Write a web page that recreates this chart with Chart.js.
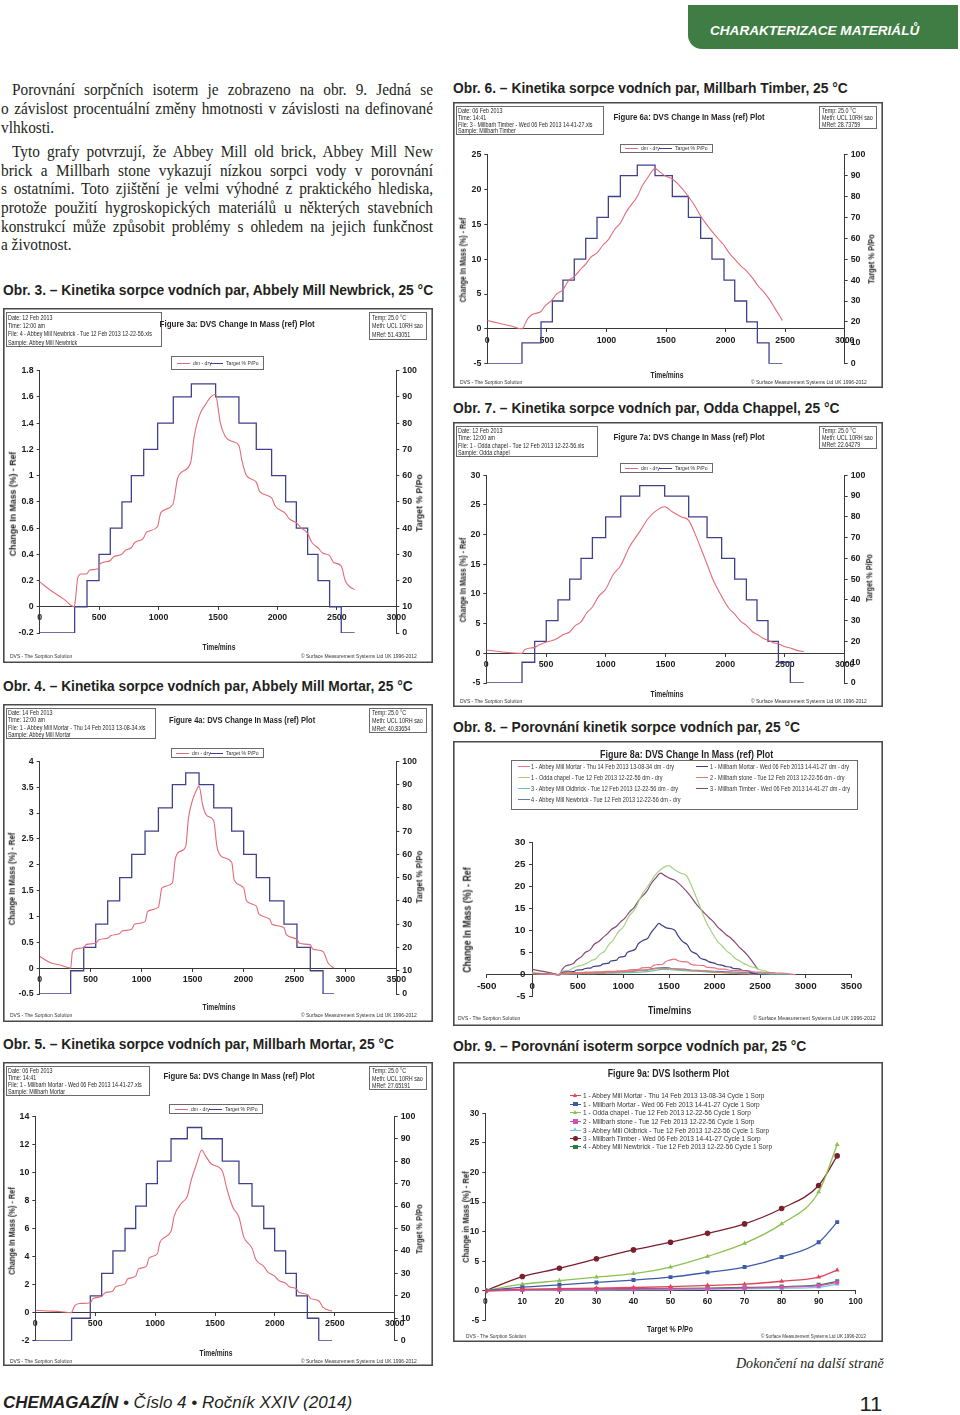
<!DOCTYPE html>
<html lang="cs">
<head>
<meta charset="utf-8">
<title>Chemagazín – kinetika sorpce vodních par</title>
<script src="https://cdn.jsdelivr.net/npm/chart.js@4.4.1/dist/chart.umd.min.js"></script>
<style>
html,body{margin:0;padding:0;background:#fff}
body{position:relative;width:960px;height:1415px;overflow:hidden;font-family:"Liberation Sans",Arial,sans-serif;color:#231f20}
.t{position:absolute;white-space:nowrap;line-height:1}
.frame{position:absolute;background:#fff;box-shadow:inset 0 0 0 1.6px #4a4a4a}
.frame canvas{position:absolute;left:0;top:0}
.box{position:absolute;border:1px solid #6a6a6a;box-sizing:border-box}
.tab{position:absolute;left:688px;top:5px;width:270px;height:44px;background:#3f7d44;border-radius:0 0 0 14px}
</style>
</head>
<body>
<div class="tab"></div>
<script>
// ================= DATA =================
// target relative humidity programme (% P/Po), identical for every DVS run
const targetRH = [0,10,20,30,40,50,60,70,80,90,95,90,80,70,60,50,40,30,20,10,0,0];

// Fig. 3 – Abbey Mill Newbrick
const newbrickStepTime = [0,294,398,499,594,692,771,875,992,1124,1276,1480,1676,1822,1951,2069,2159,2254,2341,2439,2537,2649];
const newbrickTime = [0,100,200,290,300,320,350,395,420,490,510,590,620,690,720,770,800,870,900,990,1020,1120,1160,1200,1270,1300,1340,1400,1440,1480,1500,1520,1560,1620,1676,1700,1740,1822,1850,1951,1980,2069,2100,2159,2200,2254,2290,2341,2380,2439,2470,2537,2570,2600,2649];
const newbrickMass = [0.19,0.12,0.06,0.0,0.05,0.22,0.25,0.25,0.28,0.29,0.33,0.35,0.38,0.40,0.43,0.45,0.49,0.52,0.57,0.61,0.72,0.78,0.98,1.03,1.10,1.30,1.45,1.55,1.60,1.62,1.52,1.40,1.30,1.26,1.23,1.12,1.00,0.95,0.88,0.83,0.77,0.71,0.67,0.64,0.60,0.56,0.49,0.45,0.41,0.39,0.34,0.31,0.20,0.16,0.13];

// Fig. 4 – Abbey Mill Mortar
const abbeyMortarStepTime = [0,304,432,550,667,785,903,1034,1165,1302,1433,1564,1708,1884,2002,2126,2257,2398,2525,2656,2781,2888];
const abbeyMortarTime = [0,100,200,304,320,350,432,460,550,580,667,700,785,810,903,930,1034,1060,1165,1200,1302,1330,1370,1433,1460,1500,1540,1564,1600,1640,1708,1740,1790,1884,1910,2002,2030,2126,2150,2257,2280,2398,2420,2525,2550,2656,2680,2781,2830,2888];
const abbeyMortarMass = [0.23,0.11,0.06,0.0,0.30,0.37,0.40,0.46,0.48,0.55,0.58,0.63,0.67,0.72,0.75,0.85,0.90,1.10,1.18,1.55,1.65,2.10,2.25,2.35,2.90,3.25,3.45,3.52,3.15,2.95,2.85,2.35,2.15,2.05,1.70,1.55,1.30,1.20,1.05,0.95,0.85,0.78,0.65,0.56,0.48,0.45,0.37,0.32,0.10,0.0];

// Fig. 5 – Millbarh Mortar
const mbMortarStepTime = [0,303,459,554,648,749,838,927,1019,1133,1269,1389,1561,1700,1809,1907,1998,2090,2179,2271,2366,2477];
const mbMortarTime = [0,100,200,300,330,370,459,480,554,580,648,670,749,770,838,860,927,950,1019,1040,1133,1160,1220,1269,1300,1350,1389,1420,1470,1561,1600,1650,1700,1740,1809,1840,1907,1940,1998,2030,2090,2120,2179,2200,2271,2300,2366,2400,2477];
const mbMortarMass = [0.17,0.12,0.08,0.0,0.50,0.65,0.70,1.00,1.15,1.40,1.55,1.85,2.05,2.40,2.60,3.10,3.30,3.90,4.20,5.00,5.80,6.90,7.80,8.30,9.40,10.70,11.60,11.20,10.60,10.10,8.80,7.50,6.80,5.40,4.60,3.80,3.30,2.90,2.60,2.30,2.10,1.85,1.70,1.45,1.30,1.00,0.85,0.40,0.10];

// Fig. 6 – Millbarh Timber
const timberStepTime = [0,291,451,546,635,730,826,921,1016,1117,1259,1408,1553,1688,1791,1886,1987,2077,2177,2267,2365,2477];
const timberTime = [0,100,200,291,300,330,370,451,480,546,580,635,680,730,780,826,870,921,970,1016,1070,1117,1170,1259,1300,1350,1408,1450,1500,1553,1600,1688,1740,1791,1840,1886,1940,1987,2030,2077,2130,2177,2230,2267,2320,2365,2420,2477];
const timberMass = [1.2,0.8,0.4,0.0,0.1,1.2,2.0,2.5,3.2,4.2,5.0,5.6,6.9,7.5,8.5,9.3,10.3,10.9,12.0,12.8,14.3,15.2,16.9,19.0,20.5,21.8,23.0,22.5,21.9,21.5,20.8,19.0,17.7,16.2,15.0,14.0,12.9,12.0,10.9,10.0,9.0,8.3,7.2,6.3,5.3,4.3,2.8,1.2];

// Fig. 7 – Odda chapel
const oddaStepTime = [0,299,405,502,600,698,793,888,999,1125,1284,1493,1694,1848,1970,2079,2177,2266,2358,2445,2545,2657];
const oddaTime = [0,100,200,299,320,405,440,502,560,600,650,698,740,793,840,888,940,999,1060,1125,1200,1284,1350,1420,1493,1560,1630,1694,1750,1800,1848,1900,1970,2030,2079,2130,2177,2230,2266,2320,2358,2400,2445,2500,2545,2600,2657];
const oddaMass = [0.55,0.3,0.1,0.0,0.6,1.0,1.4,1.9,2.2,2.6,3.2,3.6,4.6,5.3,6.8,7.8,9.6,10.8,13.2,14.8,18.0,20.5,22.6,24.0,24.7,23.8,23.0,22.4,20.0,17.5,15.0,12.3,9.6,7.6,6.6,5.4,4.7,3.6,3.2,2.5,2.2,1.8,1.6,1.1,0.9,0.5,0.3];

// Fig. 8 only – Millbarh stone, Abbey Mill Oldbrick
const stoneTime = [0,100,200,300,330,460,560,650,750,840,930,1020,1130,1270,1400,1560,1700,1810,1910,2000,2090,2180,2270,2370,2480];
const stoneMass = [0.3,0.2,0.1,0.0,0.15,0.25,0.3,0.35,0.42,0.5,0.6,0.7,0.9,1.1,1.45,1.3,1.05,0.85,0.7,0.55,0.45,0.35,0.25,0.15,0.05];
const oldbrickTime = [0,100,200,300,330,430,550,670,790,900,1030,1170,1300,1430,1560,1710,1880,2000,2130,2260,2400,2520,2650,2780,2880];
const oldbrickMass = [0.2,0.12,0.06,0.0,0.1,0.15,0.2,0.25,0.3,0.35,0.45,0.55,0.8,1.2,1.05,0.85,0.7,0.55,0.45,0.35,0.28,0.2,0.15,0.1,0.05];

// Fig. 9 – isotherms (Cycle 1 Sorp)
const isoRH = [0,10,20,30,40,50,60,70,80,90,95];
const isoAbbeyMortar = [0,0.25,0.35,0.45,0.55,0.7,0.9,1.1,1.6,2.3,3.5];
const isoMbMortar = [0,0.6,1.0,1.4,1.8,2.3,3.1,4.0,5.7,8.2,11.6];
const isoOdda = [0,1.1,1.7,2.3,2.9,4.0,5.8,8.0,11.3,16.7,24.7];
const isoStone = [0,0.1,0.15,0.2,0.25,0.3,0.35,0.45,0.6,0.85,1.4];
const isoOldbrick = [0,0.05,0.1,0.1,0.15,0.2,0.25,0.3,0.4,0.6,1.1];
const isoTimber = [0,2.4,3.8,5.4,6.9,8.2,9.7,11.3,13.9,17.8,22.8];
const isoNewbrick = [0,0.2,0.25,0.3,0.35,0.4,0.45,0.55,0.7,1.0,1.6];

// tick labels
const rhTicks = [0,10,20,30,40,50,60,70,80,90,100];
const time3000Ticks = [0,500,1000,1500,2000,2500,3000];
const time3500Ticks = [0,500,1000,1500,2000,2500,3000,3500];
const newbrickTicks = [-0.2,0,0.2,0.4,0.6,0.8,1,1.2,1.4,1.6,1.8];
const abbeyMortarTicks = [-0.5,0,0.5,1,1.5,2,2.5,3,3.5,4];
const mbMortarTicks = [-2,0,2,4,6,8,10,12,14];
const timberTicks = [-5,0,5,10,15,20,25];
const oddaTicks = [-5,0,5,10,15,20,25,30];
const fig8TimeTicks = [-500,0,500,1000,1500,2000,2500,3000,3500];
const fig8MassTicks = [-5,0,5,10,15,20,25,30];
const isoRHTicks = [0,10,20,30,40,50,60,70,80,90,100];
const isoMassTicks = [-5,0,5,10,15,20,25,30];

// series names
const dvsNames = ['dm - dry','Target % P/Po'];
const fig8Names = [
  '1 - Abbey Mill Mortar - Thu 14 Feb 2013 13-08-34 dm - dry',
  '1 - Millbarh Mortar - Wed 06 Feb 2013 14-41-27 dm - dry',
  '1 - Odda chapel - Tue 12 Feb 2013 12-22-56 dm - dry',
  '2 - Millbarh stone - Tue 12 Feb 2013 12-22-56 dm - dry',
  '3 - Abbey Mill Oldbrick - Tue 12 Feb 2013 12-22-56 dm - dry',
  '3 - Millbarh Timber - Wed 06 Feb 2013 14-41-27 dm - dry',
  '4 - Abbey Mill Newbrick - Tue 12 Feb 2013 12-22-56 dm - dry'];
const fig9Names = [
  '1 - Abbey Mill Mortar - Thu 14 Feb 2013 13-08-34 Cycle 1 Sorp',
  '1 - Millbarh Mortar - Wed 06 Feb 2013 14-41-27 Cycle 1 Sorp',
  '1 - Odda chapel - Tue 12 Feb 2013 12-22-56 Cycle 1 Sorp',
  '2 - Millbarh stone - Tue 12 Feb 2013 12-22-56 Cycle 1 Sorp',
  '3 - Abbey Mill Oldbrick - Tue 12 Feb 2013 12-22-56 Cycle 1 Sorp',
  '3 - Millbarh Timber - Wed 06 Feb 2013 14-41-27 Cycle 1 Sorp',
  '4 - Abbey Mill Newbrick - Tue 12 Feb 2013 12-22-56 Cycle 1 Sorp'];

// ================= STYLE / LAYOUT =================
const SANS = '"Liberation Sans", Arial, sans-serif';
const SERIF = '"Liberation Serif", "Times New Roman", serif';
const DVS_RED = '#e36b77', DVS_BLUE = '#40418c', AXIS = '#3a3a3a', TICKC = '#1c1c1c';
const fig8Colors = ['#e8737d','#3d3f88','#a6d184','#d9826c','#66c3b3','#874a72','#6a78aa'];
const fig9Colors = ['#e0445c','#3d5aa6','#8cc152','#d450b6','#7cc6e2','#7a1f2b','#2e7d40'];
const fig9Markers = ['triangle','rect','triangle','rect','triangle','circle','rect'];
const AXW = 30; // width reserved for y-axis tick labels
const DVS_TICK = 8.8;

Chart.defaults.font.family = SANS;

function el(tag, parent, cls, css){ const e=document.createElement(tag); if(cls) e.className=cls; if(css) e.style.cssText=css; parent.appendChild(e); return e; }

function put(parent, text, o){
  const d = document.createElement('div');
  d.className = 't';
  if (o.html) d.innerHTML = o.html; else d.textContent = text;
  d.style.font = `${o.italic?'italic ':''}${o.bold?'bold ':''}${o.size}px ${o.family||SANS}`;
  if (o.color) d.style.color = o.color;
  parent.appendChild(d);
  const nat = d.offsetWidth, h = d.offsetHeight;
  d._nat = nat;
  const s = o.w ? o.w/nat : (o.s || 1);
  const align = o.align || 'left';
  let left = o.x, origin = 'left center';
  if (o.rot || align === 'center'){ left = o.x - nat/2; origin = 'center center'; }
  else if (align === 'right'){ left = o.x - nat; origin = 'right center'; }
  d.style.left = left+'px';
  d.style.top = (o.y - h/2)+'px';
  d.style.transformOrigin = origin;
  d.style.transform = (o.rot ? `rotate(${o.rot}deg) ` : '') + `scaleX(${s})`;
  return d;
}

function jline(text, x, y, right, justify){
  const d = document.createElement('div');
  d.className = 't'; d.textContent = text;
  d.style.font = `17px ${SERIF}`;
  document.body.appendChild(d);
  const nat = d.offsetWidth, h = d.offsetHeight;
  const w = right - x;
  const s = justify ? Math.min(0.9, w/(nat+1)) : 0.9;
  if (justify){ d.style.whiteSpace='normal'; d.style.width=(w/s)+'px'; d.style.textAlign='justify'; d.style.textAlignLast='justify'; }
  d.style.left = x+'px'; d.style.top = (y-h/2)+'px';
  d.style.transformOrigin = 'left center'; d.style.transform = `scaleX(${s})`;
}

function makeFrame(x,y,w,h){
  const f = el('div', document.body, 'frame', `left:${x}px;top:${y}px;width:${w}px;height:${h}px`);
  const c = el('canvas', f); c.width = w; c.height = h; c.style.width = w+'px'; c.style.height = h+'px';
  return {f, c};
}

function infoBox(f, x, y, w, h, lines, size){
  el('div', f, 'box', `left:${x}px;top:${y}px;width:${w}px;height:${h}px`);
  const step = (h-2)/lines.length;
  const ds = lines.map((s,i)=>put(f, s, {x:x+2.5, y:y+1+step*(i+0.5), size}));
  const sc = Math.min(0.84, (w-5)/Math.max(...ds.map(d=>d._nat)));
  ds.forEach(d=>{ d.style.transform = `scaleX(${sc})`; });
}

function scaleOpts(ticksArr, size, extra){
  return Object.assign({
    type:'linear', min:ticksArr[0], max:ticksArr[ticksArr.length-1],
    afterBuildTicks: s => { s.ticks = ticksArr.map(v=>({value:v})); },
    grid:{drawOnChartArea:false, drawTicks:true, tickLength:3, color:AXIS, lineWidth:1},
    border:{display:true, color:AXIS, width:1},
    ticks:{autoSkip:false, maxRotation:0, minRotation:0, padding:3, color:TICKC,
           font:{family:SANS, size:size, weight:'bold'}, callback:v=>String(v)}
  }, extra||{});
}

// ---------- DVS kinetics chart ----------
function dvsChart(L, info, time, mass, stepTime, massTicks, timeTicks){
  const {f, c} = makeFrame(L.x, L.y, L.w, L.h);
  const P = L.plot;
  new Chart(c, {
    type:'line',
    data:{datasets:[
      {label:dvsNames[0], data:time.map((t,i)=>({x:t, y:mass[i]})), borderColor:DVS_RED, borderWidth:1.1,
       pointRadius:0, cubicInterpolationMode:'monotone', yAxisID:'y'},
      {label:dvsNames[1], data:stepTime.map((t,i)=>({x:t, y:targetRH[i]})), borderColor:DVS_BLUE, borderWidth:1.3,
       pointRadius:0, stepped:true, yAxisID:'y2'}
    ]},
    options:{
      responsive:false, animation:false, devicePixelRatio:1, events:[],
      layout:{padding:{left:P.l-AXW, top:P.t, right:L.w-P.r-AXW, bottom:L.h-P.b}},
      plugins:{legend:{display:false}, tooltip:{enabled:false}},
      scales:{
        x: scaleOpts(timeTicks, DVS_TICK, {position:{y:0}}),
        y: scaleOpts(massTicks, DVS_TICK, {position:'left', afterFit:s=>{s.width=AXW;}}),
        y2: scaleOpts(rhTicks, DVS_TICK, {axis:'y', position:'right', afterFit:s=>{s.width=AXW;}})
      }
    }
  });
  infoBox(f, 2.7, 4, L.head.w, L.head.h, info.head, 6.4);
  infoBox(f, 366, 4, 58, L.temp, info.temp, 6.4);
  put(f, info.title, {x:L.titleX, y:L.titleY, size:9.5, bold:true, align:'center', w:L.titleW});
  const lg = el('div', f, 'box', `left:${L.leg.x}px;top:${L.leg.y}px;width:${L.leg.w}px;height:${L.leg.h}px`);
  const cols = [DVS_RED, DVS_BLUE];
  const lw = L.leg.w;
  [[0.05,0.22],[0.41,0.58]].forEach((p,i)=>{
    el('div', lg, '', `position:absolute;left:${lw*p[0]}px;top:50%;width:${lw*0.14}px;border-top:1.2px solid ${cols[i]}`);
    put(lg, dvsNames[i], {x:lw*p[1], y:L.leg.h/2-1, size:6, color:'#333', s:0.85});
  });
  put(f, 'Change In Mass (%) - Ref', {x:L.yTitle.x, y:L.yTitle.y, size:8.5, bold:true, rot:-90, w:L.yTitle.w});
  put(f, 'Target % P/Po', {x:L.rTitle.x, y:L.rTitle.y, size:8.5, bold:true, rot:-90, w:L.rTitle.w});
  put(f, 'Time/mins', {x:L.timeX, y:L.timeY, size:8.5, bold:true, align:'center', w:33});
  put(f, 'DVS - The Sorption Solution', {x:6.7, y:L.footY, size:5.6, w:62, color:'#333'});
  put(f, '© Surface Measurement Systems Ltd UK 1996-2012', {x:414.3, y:L.footY, size:5.6, align:'right', w:116, color:'#333'});
}

// ================= PAGE TEXT =================
put(document.body, 'CHARAKTERIZACE MATERIÁLŮ', {x:710, y:30.5, size:13.5, bold:true, italic:true, w:209, color:'#ffffff'});

const bodyLines = [
  ['Porovnání sorpčních isoterm je zobrazeno na obr. 9. Jedná se', 12, 90, true],
  ['o závislost procentuální změny hmotnosti v závislosti na definované', 1, 109, true],
  ['vlhkosti.', 1, 128, false],
  ['Tyto grafy potvrzují, že Abbey Mill old brick, Abbey Mill New', 12, 152, true],
  ['brick a Millbarh stone vykazují nízkou sorpci vody v porovnání', 1, 170.5, true],
  ['s ostatními. Toto zjištění je velmi výhodné z praktického hlediska,', 1, 189, true],
  ['protože použití hygroskopických materiálů u některých stavebních', 1, 208, true],
  ['konstrukcí může způsobit problémy s ohledem na jejich funkčnost', 1, 226.5, true],
  ['a životnost.', 1, 245, false]
];
bodyLines.forEach(l=>jline(l[0], l[1], l[2], 433, l[3]));

const captions = [
  ['Obr. 3. – Kinetika sorpce vodních par, Abbely Mill Newbrick, 25 °C', 3, 290, 430],
  ['Obr. 4. – Kinetika sorpce vodních par, Abbely Mill Mortar, 25 °C', 3, 686, 410],
  ['Obr. 5. – Kinetika sorpce vodních par, Millbarh Mortar, 25 °C', 3, 1044, 391],
  ['Obr. 6. – Kinetika sorpce vodních par, Millbarh Timber, 25 °C', 453, 88, 395],
  ['Obr. 7. – Kinetika sorpce vodních par, Odda Chappel, 25 °C', 453, 408, 387],
  ['Obr. 8. – Porovnání kinetik sorpce vodních par, 25 °C', 453, 727, 347],
  ['Obr. 9. – Porovnání isoterm sorpce vodních par, 25 °C', 453, 1046, 353]
];
captions.forEach(c=>put(document.body, c[0], {x:c[1], y:c[2], size:14, bold:true, w:c[3]}));

put(document.body, 'Dokončení na další straně', {x:884, y:1363, size:14.5, italic:true, family:SERIF, align:'right', w:148});
put(document.body, '', {html:'<b>CHEMAGAZÍN</b> • Číslo 4 • Ročník XXIV (2014)', x:3, y:1403, size:17, italic:true, w:349});
put(document.body, '11', {x:870.5, y:1404, size:21, align:'center', w:23});

// ================= DVS CHARTS =================
const METH = 'Meth:  UCL 10RH sao';
dvsChart({x:3, y:308, w:430, h:355, plot:{l:36.7,t:62.7,r:393.3,b:325}, head:{w:156.7,h:35.3}, temp:27.7,
  titleX:234.2, titleY:15, titleW:155, leg:{x:168.3,y:48.3,w:92.3,h:13.3},
  yTitle:{x:10,y:195.8,w:105}, rTitle:{x:416.7,y:194.5,w:58}, timeX:215.7, timeY:339.3, footY:348.3},
  {title:'Figure 3a: DVS Change In Mass (ref) Plot',
   head:['Date:  12 Feb 2013','Time:  12:00 am','File:  4 - Abbey Mill Newbrick - Tue 12 Feb 2013 12-22-56.xls','Sample:  Abbey Mill Newbrick'],
   temp:['Temp:  25.0 °C', METH, 'MRef:  51.43051']},
  newbrickTime, newbrickMass, newbrickStepTime, newbrickTicks, time3000Ticks);

dvsChart({x:3, y:704, w:430, h:318, plot:{l:36.7,t:57.3,r:393.3,b:290}, head:{w:150,h:31}, temp:25.3,
  titleX:238.8, titleY:15, titleW:146, leg:{x:167.7,y:44.3,w:93,h:10},
  yTitle:{x:9.3,y:175,w:93}, rTitle:{x:416.7,y:173.3,w:53}, timeX:215.7, timeY:302.7, footY:311},
  {title:'Figure 4a: DVS Change In Mass (ref) Plot',
   head:['Date:  14 Feb 2013','Time:  12:00 am','File:  1 - Abbey Mill Mortar - Thu 14 Feb 2013 13-08-34.xls','Sample:  Abbey Mill Mortar'],
   temp:['Temp:  25.0 °C', METH, 'MRef:  40.83654']},
  abbeyMortarTime, abbeyMortarMass, abbeyMortarStepTime, abbeyMortarTicks, time3500Ticks);

dvsChart({x:3, y:1062, w:430, h:304, plot:{l:32.3,t:54.3,r:391.7,b:278.7}, head:{w:144.7,h:30.3}, temp:24.3,
  titleX:236.2, titleY:13.3, titleW:151, leg:{x:166,y:42.3,w:94,h:9.5},
  yTitle:{x:9.3,y:169,w:88}, rTitle:{x:416,y:166.7,w:50}, timeX:213, timeY:290.7, footY:299.3},
  {title:'Figure 5a: DVS Change In Mass (ref) Plot',
   head:['Date:  06 Feb 2013','Time:  14:41','File:  1 - Millbarh Mortar - Wed 06 Feb 2013 14-41-27.xls','Sample:  Millbarh Mortar'],
   temp:['Temp:  25.0 °C', METH, 'MRef:  27.65191']},
  mbMortarTime, mbMortarMass, mbMortarStepTime, mbMortarTicks, time3000Ticks);

dvsChart({x:453, y:102, w:430, h:286, plot:{l:34.3,t:52.7,r:391.7,b:261.7}, head:{w:148,h:29.3}, temp:22.7,
  titleX:236.3, titleY:14, titleW:151, leg:{x:166.7,y:41.7,w:93.3,h:9.3},
  yTitle:{x:10,y:157.5,w:85}, rTitle:{x:418.3,y:156.7,w:50}, timeX:214, timeY:272.7, footY:280},
  {title:'Figure 6a: DVS Change In Mass (ref) Plot',
   head:['Date:  06 Feb 2013','Time:  14:41','File:  3 - Millbarh Timber - Wed 06 Feb 2013 14-41-27.xls','Sample:  Millbarh Timber'],
   temp:['Temp:  25.0 °C', METH, 'MRef:  28.73759']},
  timberTime, timberMass, timberStepTime, timberTicks, time3000Ticks);

dvsChart({x:453, y:422, w:430, h:285, plot:{l:33.3,t:53.3,r:391.7,b:261}, head:{w:142,h:31}, temp:22.7,
  titleX:236.3, titleY:14, titleW:151, leg:{x:166.7,y:40.7,w:93.3,h:10},
  yTitle:{x:10,y:157.5,w:85}, rTitle:{x:416.7,y:155.8,w:48}, timeX:214, timeY:271.7, footY:279.3},
  {title:'Figure 7a: DVS Change In Mass (ref) Plot',
   head:['Date:  12 Feb 2013','Time:  12:00 am','File:  1 - Odda chapel - Tue 12 Feb 2013 12-22-56.xls','Sample:  Odda chapel'],
   temp:['Temp:  25.0 °C', METH, 'MRef:  22.64279']},
  oddaTime, oddaMass, oddaStepTime, oddaTicks, time3000Ticks);

// ================= FIG 8 =================
(function(){
  const {f, c} = makeFrame(453, 741, 430, 285);
  const series = [
    [abbeyMortarTime, abbeyMortarMass], [mbMortarTime, mbMortarMass], [oddaTime, oddaMass],
    [stoneTime, stoneMass], [oldbrickTime, oldbrickMass], [timberTime, timberMass], [newbrickTime, newbrickMass]];
  new Chart(c, {
    type:'line',
    data:{datasets: series.map((s,k)=>({label:fig8Names[k], data:s[0].map((t,i)=>({x:t, y:s[1][i]})),
      borderColor:fig8Colors[k], borderWidth:1.2, pointRadius:0, cubicInterpolationMode:'monotone'}))},
    options:{
      responsive:false, animation:false, devicePixelRatio:1, events:[],
      layout:{padding:{left:33.7, top:101.3, right:31.7, bottom:29.3}},
      plugins:{legend:{display:false}, tooltip:{enabled:false}},
      scales:{
        x: scaleOpts(fig8TimeTicks, 9.8, {position:{y:0}}),
        y: scaleOpts(fig8MassTicks, 9.8, {position:{x:0}, ticks:{display:false}}),
        // label-only copy of the mass axis, set a few pixels left of the axis line
        yLab: scaleOpts(fig8MassTicks, 9.8, {axis:'y', position:{x:-75}, grid:{display:false}, border:{display:false}})
      }
    }
  });
  put(f, 'Figure 8a: DVS Change In Mass (ref) Plot', {x:233.3, y:13, size:11, bold:true, align:'center', w:173});
  el('div', f, 'box', 'left:58.3px;top:19px;width:347px;height:50px');
  const ds = [];
  fig8Names.forEach((n,k)=>{
    const col = k%2, row = Math.floor(k/2);
    const lx = col ? 243.3 : 65, ty = [25,36,47.3,58.3][row];
    el('div', f, '', `position:absolute;left:${lx}px;top:${ty}px;width:11.7px;border-top:1.2px solid ${fig8Colors[k]}`);
    ds.push(put(f, n, {x:lx+13.3, y:ty, size:6.3, color:'#333'}));
  });
  const sc = 143/ds[0]._nat;
  ds.forEach(d=>{ d.style.transform = `scaleX(${sc})`; });
  put(f, 'Change In Mass (%) - Ref', {x:13.3, y:179, size:10.5, bold:true, rot:-90, w:105});
  put(f, 'Time/mins', {x:216.7, y:269.7, size:10, bold:true, align:'center', w:43});
  put(f, 'DVS - The Sorption Solution', {x:5, y:277.3, size:5.6, w:62, color:'#333'});
  put(f, '© Surface Measurement Systems Ltd UK 1996-2012', {x:422.7, y:277.3, size:5.6, align:'right', w:123, color:'#333'});
})();

// ================= FIG 9 =================
(function(){
  const {f, c} = makeFrame(453, 1062, 430, 280);
  const iso = [isoAbbeyMortar, isoMbMortar, isoOdda, isoStone, isoOldbrick, isoTimber, isoNewbrick];
  new Chart(c, {
    type:'line',
    data:{datasets: iso.map((v,k)=>({label:fig9Names[k], data:isoRH.map((x,i)=>({x:x, y:v[i]})),
      borderColor:fig9Colors[k], backgroundColor:fig9Colors[k], borderWidth:1.3,
      pointStyle:fig9Markers[k], pointRadius:2.8, pointBorderWidth:0, cubicInterpolationMode:'monotone'}))},
    options:{
      responsive:false, animation:false, devicePixelRatio:1, events:[],
      layout:{padding:{left:32.3-AXW, top:51.3, right:27.3, bottom:21.7}},
      plugins:{legend:{display:false}, tooltip:{enabled:false}},
      scales:{
        x: scaleOpts(isoRHTicks, 8.5, {position:{y:0}}),
        y: scaleOpts(isoMassTicks, 8.5, {position:'left', afterFit:s=>{s.width=AXW;}})
      }
    }
  });
  put(f, 'Figure 9a: DVS Isotherm Plot', {x:215, y:10.7, size:10.5, bold:true, align:'center', w:121.7});
  const rows = [33,41.7,50.3,59,67.7,76,84.3];
  const ds = [];
  fig9Names.forEach((n,k)=>{
    el('div', f, '', `position:absolute;left:116.7px;top:${rows[k]}px;width:11.6px;border-top:1.3px solid ${fig9Colors[k]}`);
    const m = fig9Markers[k];
    const ms = m==='triangle' ? `width:0;height:0;border-left:2.5px solid transparent;border-right:2.5px solid transparent;border-bottom:4.5px solid ${fig9Colors[k]};left:120px;top:${rows[k]-2.5}px`
             : `width:4.5px;height:4.5px;background:${fig9Colors[k]};left:120.3px;top:${rows[k]-1.8}px;${m==='circle'?'border-radius:50%;':''}`;
    el('div', f, '', 'position:absolute;'+ms);
    ds.push(put(f, n, {x:130, y:rows[k]+0.5, size:7, color:'#333'}));
  });
  const sc = 181.7/ds[0]._nat;
  ds.forEach(d=>{ d.style.transform = `scaleX(${sc})`; });
  put(f, 'Change in Mass (%) - Ref', {x:13.3, y:154.7, size:8.5, bold:true, rot:-90, w:92});
  put(f, 'Target % P/Po', {x:216.7, y:267.3, size:9, bold:true, align:'center', w:46});
  put(f, 'DVS - The Sorption Solution', {x:13.3, y:274, size:5.6, w:60, color:'#333'});
  put(f, '© Surface Measurement Systems Ltd UK 1996-2013', {x:413.3, y:274, size:5.6, align:'right', w:105, color:'#333'});
})();
</script>
</body>
</html>
